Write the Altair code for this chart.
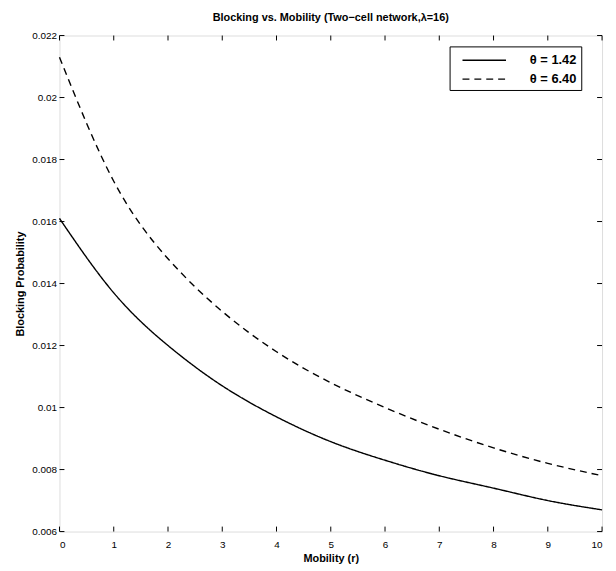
import altair as alt
import pandas as pd

# ---- data ----
r_vals = [0, 1, 2, 3, 4, 5, 6, 7, 8, 9, 10]
theta_142 = [0.0161, 0.0137, 0.0120, 0.0107, 0.0097, 0.0089, 0.0083, 0.0078, 0.0074, 0.0070, 0.0067]
theta_640 = [0.0213, 0.0173, 0.0148, 0.0131, 0.0118, 0.0108, 0.0100, 0.0093, 0.0087, 0.0082, 0.0078]
series_names = ["θ = 1.42", "θ = 6.40"]
x_ticks = [0, 1, 2, 3, 4, 5, 6, 7, 8, 9, 10]
y_ticks = [0.006, 0.008, 0.010, 0.012, 0.014, 0.016, 0.018, 0.020, 0.022]

W, H = 548, 501
FONT = "Liberation Sans"

rows = []
for r, a, b in zip(r_vals, theta_142, theta_640):
    rows.append({"r": r, "p": a, "series": series_names[0]})
    rows.append({"r": r, "p": b, "series": series_names[1]})
df = pd.DataFrame(rows)

xscale = alt.Scale(domain=[0, 10], nice=False, zero=False)
yscale = alt.Scale(domain=[0.006, 0.022], nice=False, zero=False)

lines = alt.Chart(df).mark_line(color="black", strokeWidth=1.4, interpolate="natural").encode(
    x=alt.X("r:Q", scale=xscale,
            axis=alt.Axis(values=x_ticks, title="Mobility (r)", ticks=False, domain=False,
                          grid=False, labelPadding=8, titlePadding=3, format="d")),
    y=alt.Y("p:Q", scale=yscale,
            axis=alt.Axis(values=y_ticks, title="Blocking Probability", ticks=False, domain=False,
                          grid=False, labelPadding=3, titlePadding=6, format=".3~f")),
    strokeDash=alt.StrokeDash(
        "series:N",
        scale=alt.Scale(domain=series_names, range=[[1, 0], [7, 5]]),
        legend=alt.Legend(title=None, orient="none", legendX=394, legendY=11,
                          strokeColor="black", fillColor="white", padding=4,
                          symbolType="M-2.44,0H2.44", symbolSize=324, symbolStrokeWidth=1.4,
                          symbolStrokeColor="black", symbolOffset=21, labelOffset=36,
                          rowPadding=2,
                          labelFont=FONT, labelFontSize=13, labelFontWeight="bold",
                          labelColor="black", labelLimit=200),
    ),
)

xt = pd.DataFrame({"v": x_ticks})
yt = pd.DataFrame({"v": y_ticks})

xtick_bottom = alt.Chart(xt).mark_rule(color="black", strokeWidth=1).encode(
    x=alt.X("v:Q", scale=xscale), y=alt.value(H), y2=alt.value(H - 5))
xtick_top = alt.Chart(xt).mark_rule(color="black", strokeWidth=1).encode(
    x=alt.X("v:Q", scale=xscale), y=alt.value(0), y2=alt.value(5))
ytick_left = alt.Chart(yt).mark_rule(color="black", strokeWidth=1).encode(
    y=alt.Y("v:Q", scale=yscale), x=alt.value(0), x2=alt.value(5))
ytick_right = alt.Chart(yt).mark_rule(color="black", strokeWidth=1).encode(
    y=alt.Y("v:Q", scale=yscale), x=alt.value(W), x2=alt.value(W - 5))

chart = alt.layer(lines, xtick_bottom, xtick_top, ytick_left, ytick_right).properties(
    width=W, height=H,
    title=alt.Title("Blocking vs. Mobility (Two\u2212cell network,\u03bb=16)",
                    font=FONT, fontSize=11, fontWeight="bold", color="black", offset=8),
    autosize=alt.AutoSizeParams(type="none"),
    padding={"left": 52, "top": 25, "right": 6, "bottom": 33},
).configure_view(
    stroke="black", strokeWidth=1.2
).configure_axis(
    labelFont=FONT, labelFontSize=12, labelFontWeight="bold", labelColor="black",
    titleFont=FONT, titleFontSize=12, titleFontWeight="bold", titleColor="black",
).configure(background="white")

chart.save("out.html", embed_options={"renderer": "svg", "actions": False})
